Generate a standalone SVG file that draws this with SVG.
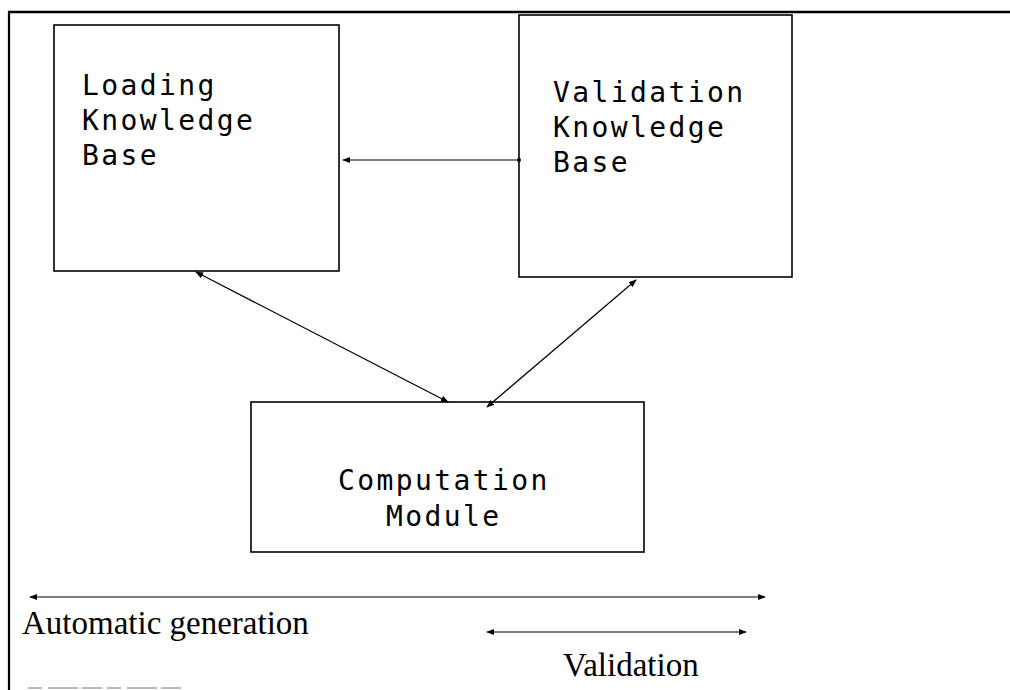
<svg xmlns="http://www.w3.org/2000/svg" width="1010" height="690" viewBox="0 0 1010 690">
<style>
.box{fill:#fff;stroke:#000;stroke-width:1.6}
.mono{font-family:"DejaVu Sans Mono","Liberation Mono",monospace;font-size:28px;letter-spacing:2.4px;fill:#000}
.serif{font-family:"Liberation Serif","Times New Roman",serif;font-size:33px;fill:#000}
.conn{stroke:#000;stroke-width:1.2;fill:none}
</style>
<defs>
<marker id="ah" viewBox="0 0 10 10" refX="9" refY="5" markerWidth="8" markerHeight="8" markerUnits="userSpaceOnUse" orient="auto-start-reverse">
<path d="M0,1 L10,5 L0,9 z" fill="#000"/>
</marker>
</defs>
<rect width="1010" height="690" fill="#fff"/>
<g id="frame">
<line x1="9" y1="11" x2="9" y2="690" stroke="#000" stroke-width="2.2"/>
<line x1="8" y1="12" x2="1010" y2="12" stroke="#000" stroke-width="2.6"/>
<line x1="28" y1="688" x2="185" y2="688" stroke="#777" stroke-width="1" stroke-dasharray="14 6 30 4 20 5"/>
</g>
<g id="loading-kb">
<rect class="box" x="54" y="25" width="285" height="246"/>
<text class="mono" x="82" y="95">Loading</text>
<text class="mono" x="82" y="130">Knowledge</text>
<text class="mono" x="82" y="165">Base</text>
</g>
<g id="validation-kb">
<rect class="box" x="519" y="15" width="273" height="262"/>
<text class="mono" x="553" y="102">Validation</text>
<text class="mono" x="553" y="137">Knowledge</text>
<text class="mono" x="553" y="172">Base</text>
</g>
<g id="computation-module">
<rect class="box" x="251" y="402" width="393" height="150"/>
<text class="mono" x="338" y="490">Computation</text>
<text class="mono" x="386" y="526">Module</text>
</g>
<g id="connectors">
<line class="conn" x1="519" y1="160" x2="343" y2="160" marker-end="url(#ah)"/>
<circle cx="519" cy="160" r="2"/>
<line class="conn" x1="448" y1="402" x2="196" y2="272" marker-start="url(#ah)" marker-end="url(#ah)"/>
<line class="conn" x1="487" y1="407" x2="636" y2="280" marker-start="url(#ah)" marker-end="url(#ah)"/>
<line class="conn" x1="30" y1="597" x2="765" y2="597" marker-start="url(#ah)" marker-end="url(#ah)"/>
<line class="conn" x1="487" y1="632" x2="746" y2="632" marker-start="url(#ah)" marker-end="url(#ah)"/>
</g>
<g id="labels">
<text class="serif" x="22" y="634">Automatic generation</text>
<text class="serif" x="563" y="676">Validation</text>
</g>
</svg>
